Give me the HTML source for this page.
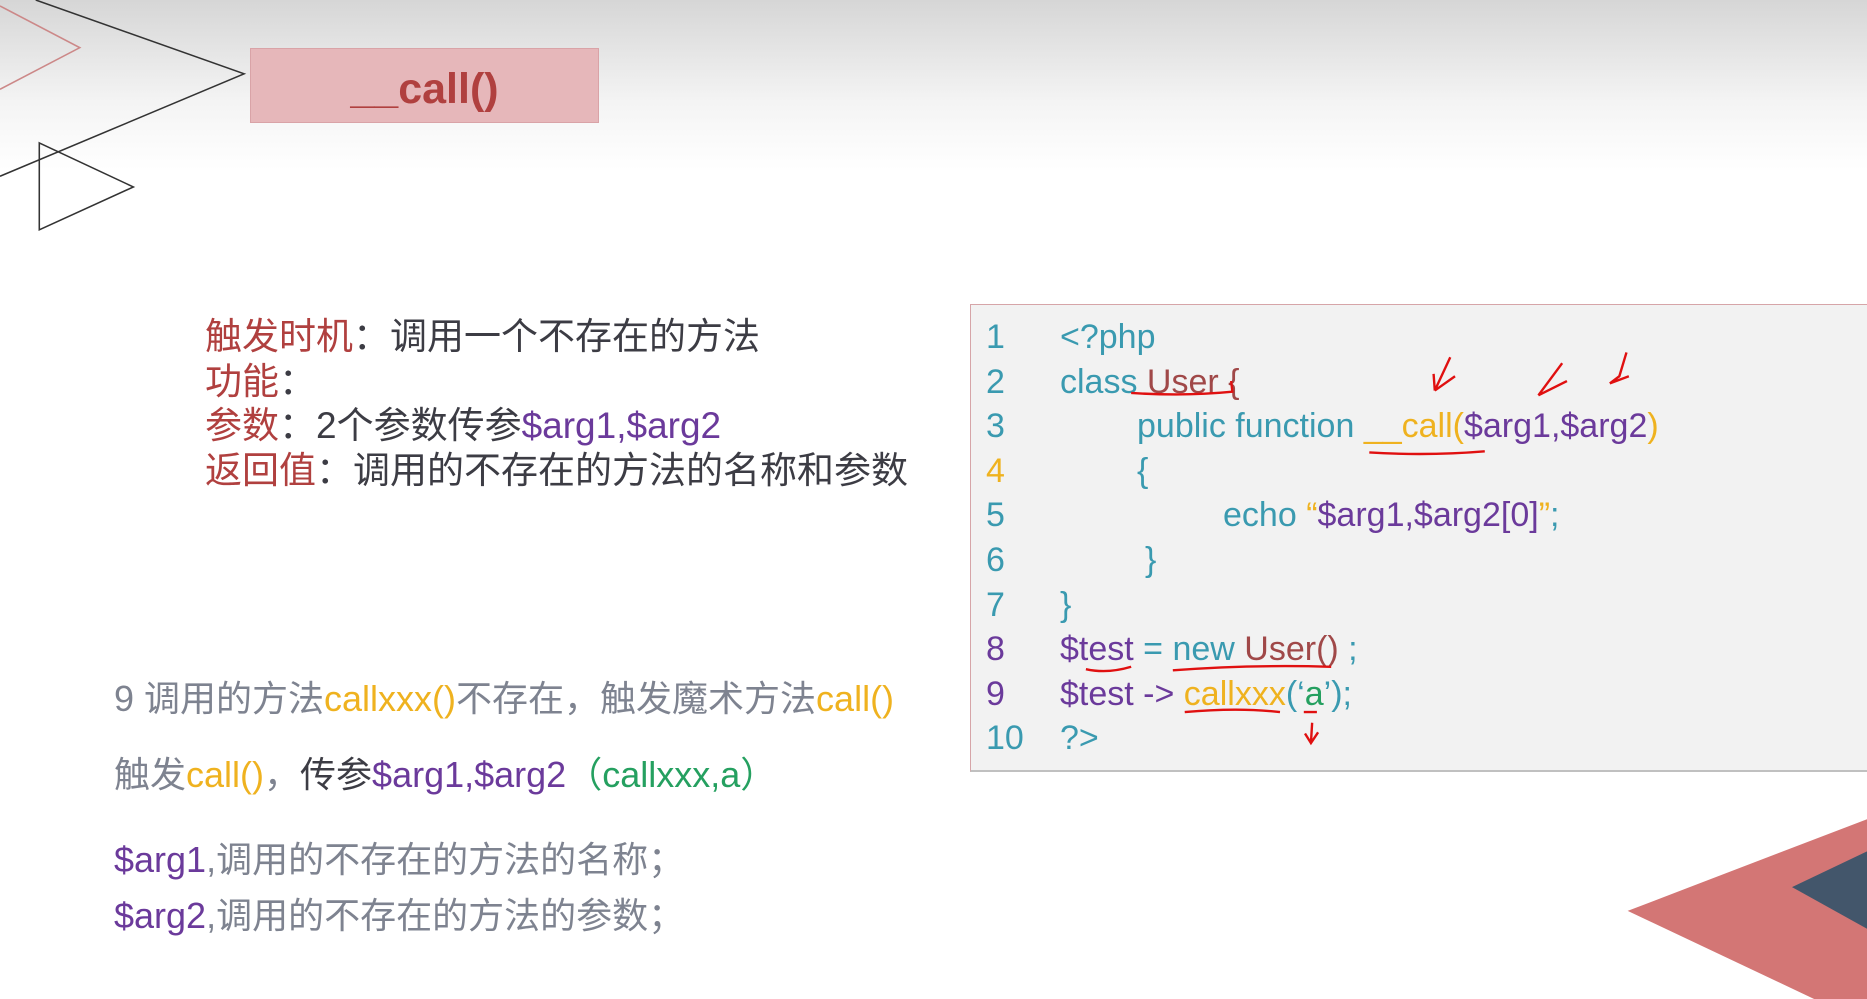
<!DOCTYPE html>
<html><head><meta charset="utf-8"><style>
body{margin:0;width:1867px;height:999px;overflow:hidden;position:relative;background:#fff;font-family:"Liberation Sans","Noto Sans CJK SC",sans-serif}
.bg{position:absolute;left:0;top:0;width:1867px;height:170px;background:linear-gradient(#d6d6d6,#f4f4f4 60%,#fff)}
.t{position:absolute;white-space:nowrap}
.r{color:#b0403f}.k{color:#3c3c44}.p{color:#6b3a9b}.y{color:#efb21f}.g{color:#25a060}.gr{color:#7e8390}.c{color:#3a9ab0}.u{color:#a04848}
.code{position:absolute;left:970px;top:304px;width:900px;height:468px;background:#f2f2f2;border:1px solid #d6a5a8;border-bottom:2px solid #c0c0c0;box-sizing:border-box}
.ln{position:absolute;font-size:34px;line-height:44.6px;white-space:nowrap}
</style></head><body>
<div class="bg"></div>
<svg style="position:absolute;left:0;top:0" width="1867" height="999" viewBox="0 0 1568 839">
<polyline points="0,5 67,40 0,75" fill="none" stroke="#c88" stroke-width="1.3"/>
<polyline points="30,0 205,62 0,148" fill="none" stroke="#333" stroke-width="1.3"/>
<polygon points="33,120 112,157 33,193" fill="none" stroke="#333" stroke-width="1.3"/>
<polygon points="1367,765 1568,688 1568,860" fill="#d37675"/>
<polygon points="1505,745 1568,715 1568,780" fill="#43566b"/>
</svg>
<div style="position:absolute;left:250px;top:48px;width:349px;height:75px;background:#e6b7ba;border:1px solid #d9a3a7;box-sizing:border-box"></div>
<div class="t r" style="left:250px;width:349px;text-align:center;top:65px;font-size:43px;font-weight:bold;line-height:48px">__call()</div>

<div class="t" style="left:205px;top:315px;font-size:37px;line-height:44.6px">
<div><span class="r">触发时机</span><span class="k">：调用一个不存在的方法</span></div>
<div><span class="r">功能</span><span class="k">：</span></div>
<div><span class="r">参数</span><span class="k">：2个参数传参</span><span class="p">$arg1,$arg2</span></div>
<div><span class="r">返回值</span><span class="k">：调用的不存在的方法的名称和参数</span></div>
</div>

<div class="t gr" style="left:114px;top:677px;font-size:36px;line-height:44px">9 调用的方法<span class="y">callxxx()</span>不存在，触发魔术方法<span class="y">call()</span></div>
<div class="t gr" style="left:114px;top:753px;font-size:36px;line-height:44px">触发<span class="y">call()</span>，<span class="k">传参</span><span class="p">$arg1,$arg2</span><span class="g">（callxxx,a）</span></div>
<div class="t gr" style="left:114px;top:838px;font-size:36px;line-height:44px"><span class="p">$arg1</span>,调用的不存在的方法的名称；</div>
<div class="t gr" style="left:114px;top:894px;font-size:36px;line-height:44px"><span class="p">$arg2</span>,调用的不存在的方法的参数；</div>

<div class="code"></div>
<div class="ln c" style="left:986px;top:315px">1<br>2<br>3<br><span class="y">4</span><br>5<br>6<br>7<br><span class="p">8</span><br><span class="p">9</span><br>10</div>
<div class="ln c" style="left:1060px;top:315px">&lt;?php</div>
<div class="ln c" style="left:1060px;top:359.6px">class <span class="u">User {</span></div>
<div class="ln c" style="left:1137px;top:404.2px">public function <span class="y">__call(</span><span class="p">$arg1,$arg2</span><span class="y">)</span></div>
<div class="ln c" style="left:1137px;top:448.8px">{</div>
<div class="ln c" style="left:1223px;top:493.4px">echo <span class="y">“</span><span class="p">$arg1,$arg2[0]</span><span class="y">”</span>;</div>
<div class="ln c" style="left:1145px;top:538px">}</div>
<div class="ln c" style="left:1060px;top:582.6px">}</div>
<div class="ln c" style="left:1060px;top:627.2px"><span class="p">$test</span> = new <span class="u">User()</span> ;</div>
<div class="ln c" style="left:1060px;top:671.8px"><span class="p">$test -&gt;</span> <span class="y">callxxx</span>(‘<span class="g">a</span>’);</div>
<div class="ln c" style="left:1060px;top:716.4px">?&gt;</div>
<svg style="position:absolute;left:0;top:0" width="1867" height="999" viewBox="0 0 1568 839" fill="none" stroke="#e01010" stroke-width="2">
<path d="M950,330 Q995,333 1035,329 L1034,320"/>
<path d="M1150,380 Q1200,383 1247,379"/>
<path d="M1218,300 L1205,328 M1205,328 L1222,316 M1205,328 L1204,314"/>
<path d="M1312,305 L1292,332 M1292,332 L1316,320"/>
<path d="M1366,296 L1360,316 L1352,322 M1352,322 L1368,316"/>
<path d="M912,562 Q930,566 950,560"/>
<path d="M985,563 Q1050,558 1118,560"/>
<path d="M995,598 Q1040,594 1075,598"/>
<path d="M1095,598 L1106,598"/>
<path d="M1102,607 L1101,624 M1096,616 L1101,624 L1107,615"/>
</svg>
</body></html>
